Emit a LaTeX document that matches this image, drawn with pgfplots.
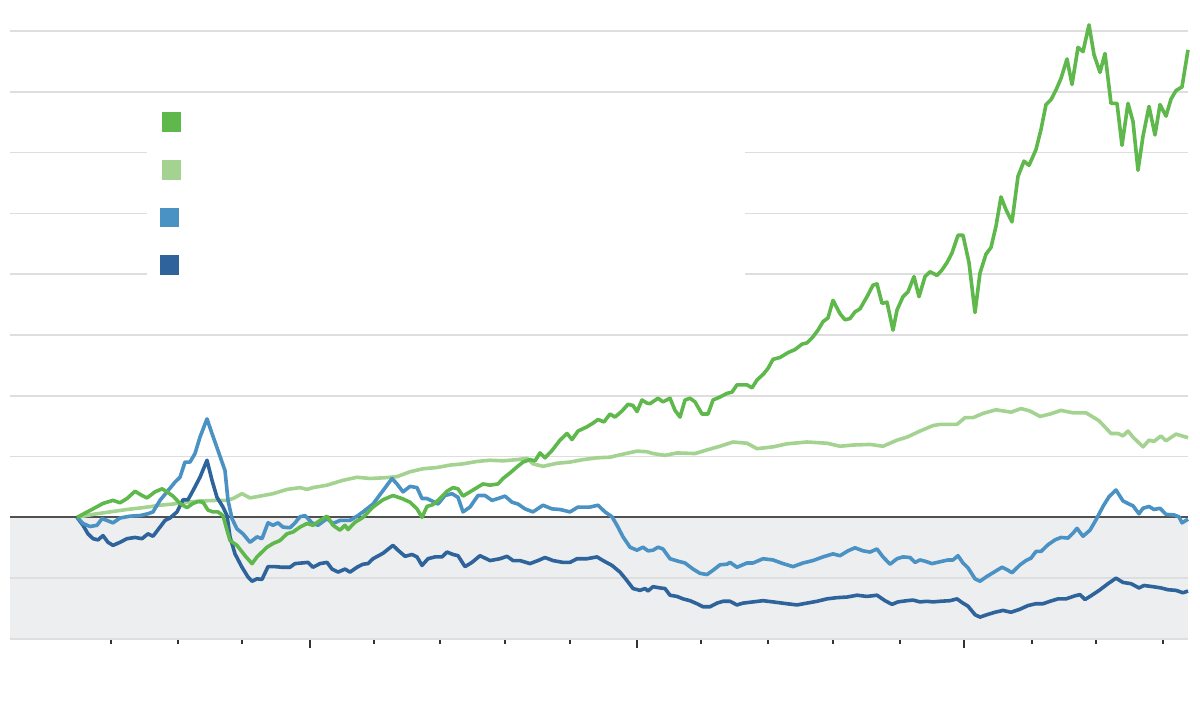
\documentclass[border=0pt]{standalone}
\usepackage{pgfplots}
\pgfplotsset{compat=1.18}
\usepackage{pgfplotstable}

\definecolor{dgreen}{RGB}{94,184,76}
\definecolor{lgreen}{RGB}{163,210,145}
\definecolor{lblue}{RGB}{74,145,196}
\definecolor{dblue}{RGB}{46,100,155}
\definecolor{bandgray}{RGB}{237,238,240}
\definecolor{gridc}{RGB}{222,222,222}
\definecolor{zeroc}{RGB}{80,80,80}

% x = horizontal position (px), y = value in grid units
\pgfplotstableread{
x y
77 0
93 0.14
103 0.23
113 0.28
120 0.24
127 0.31
135 0.43
142 0.36
147 0.32
155 0.42
162 0.47
167 0.42
173 0.35
180 0.23
187 0.16
193 0.23
198 0.26
203 0.25
208 0.12
213 0.09
218 0.09
223 0.03
227 -0.21
230 -0.38
237 -0.46
245 -0.63
252 -0.76
257 -0.65
262 -0.57
267 -0.49
273 -0.43
280 -0.38
287 -0.27
293 -0.24
300 -0.16
307 -0.10
313 -0.13
320 -0.05
327 0.02
333 -0.13
340 -0.21
345 -0.13
348 -0.20
355 -0.08
363 0
373 0.17
383 0.29
393 0.36
402 0.31
410 0.25
417 0.14
422 0
427 0.18
433 0.21
440 0.31
447 0.43
453 0.49
458 0.47
463 0.35
470 0.42
477 0.49
483 0.55
490 0.53
498 0.55
503 0.64
510 0.73
517 0.83
523 0.91
530 0.95
535 0.93
540 1.06
545 0.98
552 1.10
560 1.27
567 1.38
572 1.28
578 1.42
587 1.49
593 1.55
598 1.61
604 1.57
610 1.70
615 1.65
622 1.75
628 1.86
633 1.84
637 1.74
642 1.93
647 1.88
650 1.87
658 1.96
663 1.90
670 1.96
675 1.76
680 1.65
685 1.93
690 1.96
695 1.90
702 1.70
708 1.70
713 1.93
720 1.98
727 2.04
732 2.06
737 2.18
747 2.18
752 2.13
757 2.26
763 2.35
768 2.45
773 2.60
780 2.63
788 2.71
795 2.76
802 2.85
807 2.87
813 2.97
818 3.08
823 3.22
828 3.28
833 3.57
840 3.35
845 3.25
850 3.27
855 3.38
860 3.43
867 3.63
873 3.82
877 3.84
882 3.52
887 3.54
893 3.08
897 3.41
903 3.63
908 3.71
914 3.96
919 3.63
925 3.96
930 4.04
937 3.98
942 4.07
947 4.19
952 4.35
958 4.64
963 4.64
969 4.19
975 3.37
980 4.02
986 4.33
991 4.44
996 4.79
1001 5.27
1006 5.06
1012 4.86
1018 5.61
1024 5.86
1029 5.79
1036 6.05
1041 6.38
1046 6.79
1051 6.87
1056 7.03
1061 7.22
1067 7.54
1072 7.12
1078 7.73
1083 7.66
1089 8.10
1094 7.61
1100 7.32
1105 7.63
1111 6.81
1117 6.81
1122 6.12
1128 6.81
1133 6.51
1138 5.71
1143 6.27
1149 6.76
1155 6.29
1160 6.79
1166 6.60
1171 6.88
1176 7.02
1182 7.08
1188 7.69
}\darkgreen

\pgfplotstableread{
x y
77 0
93 0.05
110 0.09
127 0.13
143 0.16
160 0.20
173 0.22
187 0.25
200 0.27
217 0.28
227 0.28
233 0.31
242 0.39
250 0.32
260 0.35
273 0.39
287 0.46
300 0.49
307 0.46
313 0.49
327 0.53
343 0.61
357 0.66
370 0.64
383 0.65
397 0.67
410 0.75
423 0.80
437 0.82
450 0.86
463 0.88
477 0.92
490 0.94
503 0.93
517 0.95
527 0.97
533 0.88
543 0.84
557 0.89
570 0.91
583 0.95
597 0.98
610 0.99
623 1.04
637 1.09
647 1.08
653 1.05
665 1.02
677 1.06
695 1.05
707 1.11
720 1.17
733 1.24
747 1.22
757 1.13
773 1.16
787 1.21
807 1.24
827 1.22
840 1.17
853 1.19
870 1.20
883 1.17
897 1.27
907 1.32
920 1.42
933 1.51
940 1.53
957 1.53
965 1.64
973 1.64
983 1.71
996 1.77
1011 1.73
1021 1.79
1030 1.75
1040 1.66
1050 1.70
1061 1.76
1073 1.72
1086 1.72
1099 1.59
1111 1.38
1118 1.38
1123 1.34
1128 1.42
1133 1.32
1143 1.16
1149 1.27
1154 1.25
1161 1.34
1166 1.26
1176 1.37
1188 1.31
}\lightgreen

\pgfplotstableread{
x y
77 0
83 -0.10
90 -0.15
97 -0.13
102 -0.02
107 -0.05
113 -0.09
120 -0.01
130 0.02
140 0.03
148 0.06
153 0.09
160 0.28
167 0.42
175 0.58
180 0.66
185 0.91
190 0.91
195 1.05
200 1.32
207 1.62
212 1.38
218 1.10
225 0.77
228 0.28
232 -0.02
237 -0.19
243 -0.27
250 -0.41
257 -0.32
262 -0.35
268 -0.09
273 -0.13
278 -0.09
283 -0.16
290 -0.17
295 -0.09
300 0.01
305 0.03
312 -0.09
318 -0.13
327 -0.02
333 -0.10
340 -0.05
350 -0.05
357 0.02
363 0.09
373 0.22
383 0.44
392 0.64
397 0.55
403 0.42
410 0.51
417 0.49
422 0.31
427 0.31
432 0.27
438 0.22
445 0.36
452 0.39
458 0.33
463 0.09
470 0.17
478 0.36
485 0.36
492 0.28
498 0.31
505 0.35
512 0.25
518 0.22
525 0.14
533 0.09
543 0.20
552 0.14
560 0.13
570 0.09
578 0.17
590 0.17
598 0.20
605 0.09
612 0.01
617 -0.13
623 -0.32
630 -0.49
637 -0.54
643 -0.49
648 -0.55
653 -0.54
658 -0.49
663 -0.52
670 -0.68
678 -0.72
685 -0.75
693 -0.85
700 -0.92
707 -0.94
713 -0.87
720 -0.78
727 -0.77
730 -0.74
737 -0.82
747 -0.75
753 -0.75
763 -0.68
773 -0.70
783 -0.76
793 -0.81
803 -0.75
813 -0.71
823 -0.65
833 -0.60
840 -0.63
848 -0.55
855 -0.50
863 -0.55
870 -0.57
877 -0.52
883 -0.65
890 -0.77
897 -0.68
903 -0.65
910 -0.66
915 -0.74
920 -0.70
925 -0.72
932 -0.76
940 -0.73
948 -0.70
953 -0.70
958 -0.63
963 -0.75
968 -0.83
975 -1.01
980 -1.05
987 -0.97
995 -0.89
1002 -0.82
1007 -0.86
1012 -0.91
1020 -0.78
1026 -0.71
1031 -0.67
1036 -0.56
1041 -0.56
1048 -0.45
1055 -0.37
1061 -0.33
1068 -0.34
1073 -0.26
1077 -0.18
1083 -0.31
1090 -0.21
1096 -0.04
1103 0.18
1109 0.34
1116 0.45
1123 0.27
1129 0.22
1133 0.19
1139 0.06
1143 0.15
1149 0.18
1154 0.13
1160 0.15
1166 0.05
1174 0.04
1179 0.01
1182 -0.09
1188 -0.03
}\lightblue

\pgfplotstableread{
x y
77 0
83 -0.13
88 -0.27
93 -0.35
98 -0.37
103 -0.30
108 -0.41
113 -0.46
120 -0.41
127 -0.35
135 -0.33
142 -0.35
148 -0.27
153 -0.31
160 -0.16
165 -0.05
170 -0.01
177 0.09
183 0.29
188 0.29
193 0.44
200 0.66
207 0.94
212 0.61
217 0.33
223 0.17
227 0.03
230 -0.32
235 -0.60
242 -0.82
248 -0.98
252 -1.05
257 -1.01
262 -1.02
268 -0.81
275 -0.81
282 -0.82
290 -0.82
295 -0.76
302 -0.75
308 -0.74
313 -0.82
320 -0.76
327 -0.74
332 -0.85
338 -0.90
345 -0.85
350 -0.90
357 -0.82
363 -0.77
368 -0.76
373 -0.68
383 -0.59
393 -0.46
398 -0.54
405 -0.64
412 -0.61
417 -0.65
422 -0.79
428 -0.68
435 -0.65
442 -0.65
447 -0.57
453 -0.61
458 -0.63
465 -0.81
472 -0.74
480 -0.63
490 -0.71
500 -0.68
507 -0.64
513 -0.71
520 -0.71
530 -0.76
538 -0.71
545 -0.66
553 -0.71
563 -0.74
570 -0.74
577 -0.68
587 -0.68
597 -0.65
603 -0.71
612 -0.79
620 -0.90
627 -1.04
633 -1.17
640 -1.20
645 -1.17
648 -1.21
653 -1.14
660 -1.16
665 -1.17
670 -1.28
677 -1.30
683 -1.34
690 -1.37
697 -1.42
703 -1.47
710 -1.47
717 -1.41
723 -1.38
730 -1.38
737 -1.44
743 -1.41
753 -1.39
763 -1.37
773 -1.39
787 -1.42
797 -1.44
807 -1.41
817 -1.38
827 -1.34
837 -1.32
847 -1.31
857 -1.28
867 -1.30
877 -1.28
885 -1.37
892 -1.43
898 -1.39
907 -1.37
913 -1.36
920 -1.39
927 -1.38
933 -1.39
940 -1.38
950 -1.37
957 -1.34
962 -1.40
968 -1.46
975 -1.60
980 -1.64
987 -1.60
995 -1.56
1003 -1.53
1011 -1.56
1020 -1.51
1028 -1.45
1036 -1.42
1043 -1.42
1050 -1.38
1058 -1.34
1066 -1.34
1075 -1.29
1080 -1.27
1085 -1.35
1091 -1.29
1100 -1.19
1108 -1.09
1116 -1.00
1123 -1.07
1131 -1.09
1139 -1.16
1144 -1.12
1153 -1.14
1161 -1.16
1168 -1.19
1176 -1.20
1183 -1.24
1188 -1.21
}\darkblue

\begin{document}
\begin{tikzpicture}
\useasboundingbox (0,0) rectangle (600pt,358pt);
\begin{axis}[
    at={(5pt,38.5pt)}, anchor=south west,
    width=589pt, height=304pt, scale only axis,
    xmin=10, xmax=1188, ymin=-2, ymax=8,
    clip=false,
    axis y line=none,
    axis x line*=bottom,
    x axis line style={draw=none},
    xtick={310,637,964},
    minor xtick={111,178,242,374,440,505,570,701,768,833,900,1032,1096,1163},
    xticklabels={},
    tick align=outside,
    major tick length=4.5pt,
    minor tick length=2.6pt,
    every tick/.style={color=black!80, line width=0.9pt},
    every axis plot/.style={line width=1.8pt, line join=round, no markers},
]
% grey band below zero and grid lines
\fill[bandgray] (axis cs:10,-2) rectangle (axis cs:1188,0);
\pgfplotsinvokeforeach{-2,-1,1,2,3,4,5,6,7,8}{
  \draw[gridc, line width=0.8pt] (axis cs:10,#1) -- (axis cs:1188,#1);
}
\draw[zeroc, line width=1pt] (axis cs:10,0) -- (axis cs:1188,0);

\addplot[lgreen] table {\lightgreen};
\addplot[dblue] table {\darkblue};
\addplot[lblue] table {\lightblue};
\addplot[dgreen] table {\darkgreen};
\end{axis}

% legend block (pixel coordinates, origin top left)
\begin{scope}[x=0.5pt, y=-0.5pt, shift={(0,358pt)}]
  \fill[white] (147,100) rectangle (745,300);
  \fill[dgreen] (161.5,112.5) rectangle (181,132);
  \fill[lgreen] (161.5,160.5) rectangle (181,180);
  \fill[lblue] (159.5,208) rectangle (179,227.5);
  \fill[dblue] (159.5,255.5) rectangle (179,275);
\end{scope}
\end{tikzpicture}
\end{document}
